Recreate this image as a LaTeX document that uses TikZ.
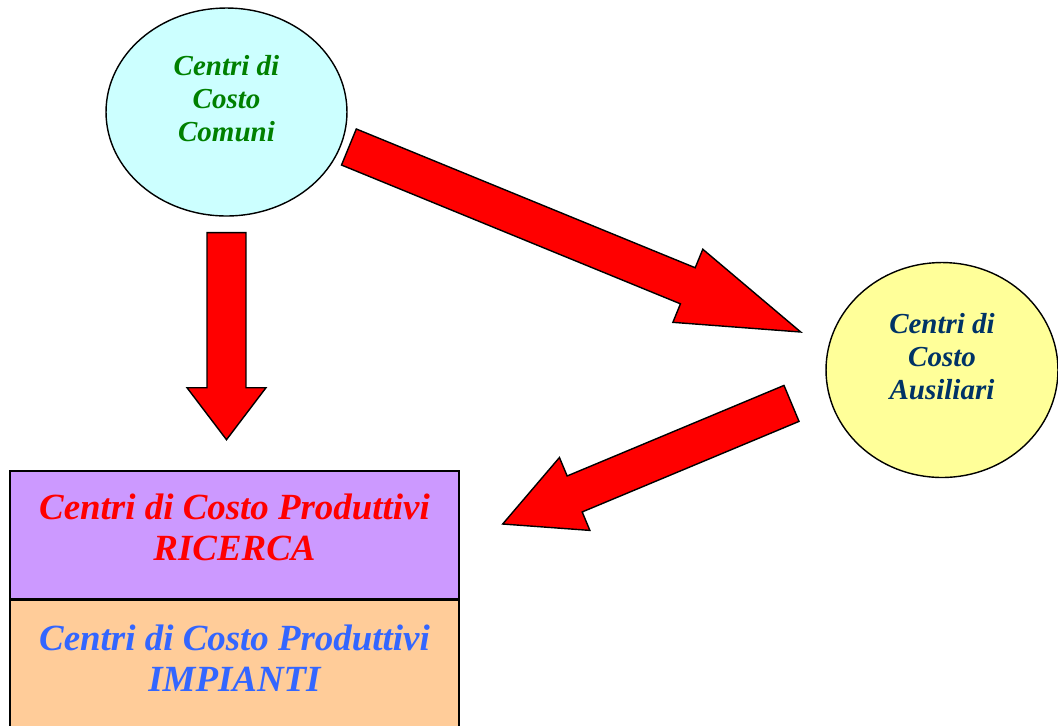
\documentclass[tikz,border=0pt]{standalone}
\usepackage{fontspec}
\setmainfont{Liberation Serif}
\usepackage{tikz}
\usepackage{xcolor}
\usetikzlibrary{positioning, shapes.geometric, calc}

\definecolor{cielo}{HTML}{CCFFFF}
\definecolor{giallino}{HTML}{FFFF99}
\definecolor{lilla}{HTML}{CC99FF}
\definecolor{pesca}{HTML}{FFCC99}
\definecolor{verdescuro}{HTML}{008000}
\definecolor{blunotte}{HTML}{003366}
\definecolor{azzurro}{HTML}{3366FF}

\newcommand{\shafthw}{0.39cm}
\newcommand{\headhw}{0.79cm}
% freccia a blocco: [lunghezza punta]{coda}{punta}
\newcommand{\fatarrow}[3][1.04cm]{%
  \coordinate (fa-base) at ($(#3)!#1!(#2)$);
  \draw[fatarrow] ($(#2)!\shafthw!90:(#3)$) -- ($(fa-base)!\shafthw!90:(#3)$)
    -- ($(fa-base)!\headhw!90:(#3)$) -- (#3) -- ($(fa-base)!\headhw!-90:(#3)$)
    -- ($(fa-base)!\shafthw!-90:(#3)$) -- ($(#2)!\shafthw!-90:(#3)$) -- cycle;
}

\begin{document}
\begin{tikzpicture}[
    x=0.02cm, y=-0.02cm,
    centro/.style={ellipse, draw=black, line width=0.8pt, minimum width=4.82cm, minimum height=4.16cm, inner sep=0pt, align=center, font=\fontsize{16.5}{18.7}\selectfont\bfseries\itshape},
    reparto/.style={rectangle, draw=black, line width=0.8pt, minimum width=8.98cm, minimum height=2.56cm, inner sep=0pt, align=center, font=\fontsize{21}{23.8}\selectfont\bfseries\itshape},
    fatarrow/.style={draw=black, line width=0.8pt, fill=red, line join=miter}
]
\useasboundingbox (0,0) rectangle (1058,725);

% Centri di costo comuni e ausiliari
\node[centro, fill=cielo, text=verdescuro] (comuni) at (226.5,112) {Centri di\\Costo\\Comuni\\[-3pt]\mbox{}};
\node[centro, fill=giallino, text=blunotte, minimum width=4.64cm, minimum height=4.3cm] (ausiliari) at (942,370) {Centri di\\Costo\\Ausiliari\\[-3pt]\mbox{}};

% Centri produttivi
\node[reparto, fill=lilla, text=red] (ricerca) at (234.5,535) {Centri di Costo Produttivi\\RICERCA\\[-15pt]\mbox{}};
\node[reparto, fill=pesca, text=azzurro, minimum height=2.62cm, below=0pt of ricerca] (impianti) {Centri di Costo Produttivi\\IMPIANTI\\[-15pt]\mbox{}};

% Estremi delle frecce
\coordinate (giu-coda) at ($(comuni.south)+(0,16)$);
\coordinate (giu-punta) at ($(giu-coda)+(0,207)$);
\coordinate (diag-coda) at (348.9,147);
\coordinate (diag-punta) at (800.7,332);
\coordinate (ritorno-coda) at (791.5,403.4);
\coordinate (ritorno-punta) at (502.7,524);

% Frecce
\fatarrow{giu-coda}{giu-punta}
\fatarrow[2.44cm]{diag-coda}{diag-punta}
\fatarrow[1.56cm]{ritorno-coda}{ritorno-punta}

\end{tikzpicture}
\end{document}
